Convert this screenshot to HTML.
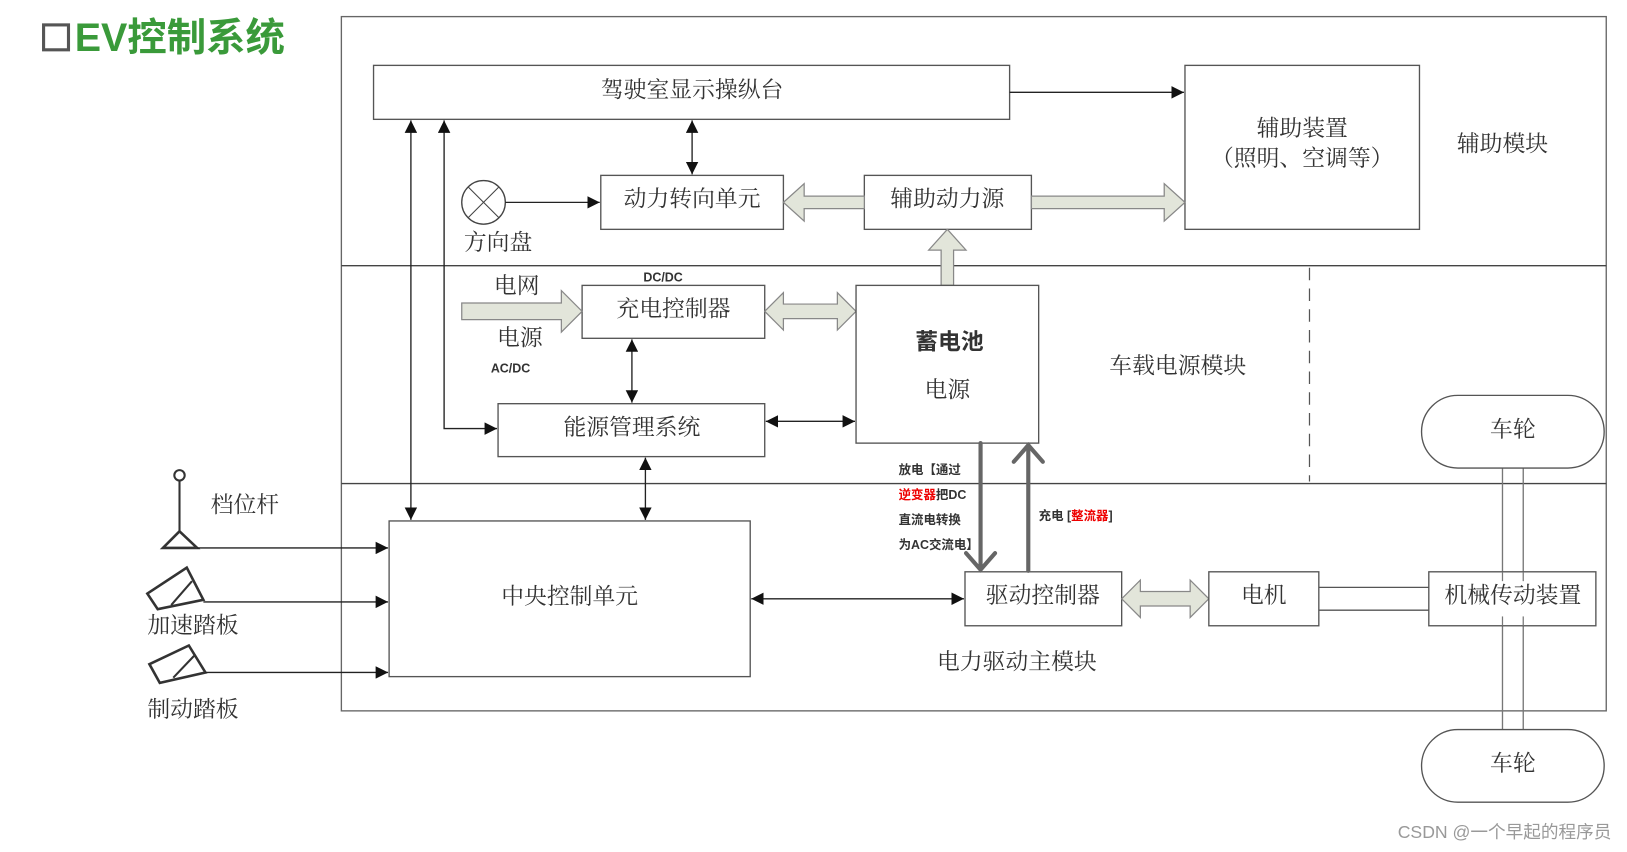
<!DOCTYPE html>
<html><head><meta charset="utf-8"><style>
html,body{margin:0;padding:0;background:#fff;width:1627px;height:852px;overflow:hidden}
svg{display:block}
.t{font-family:"Liberation Serif","Noto Serif CJK SC",serif;font-size:22px;fill:#333;text-anchor:middle;dominant-baseline:middle}
.s{font-family:"Liberation Sans","Noto Sans CJK SC",sans-serif;font-size:12px;font-weight:bold;fill:#333}
.b{fill:#fff;stroke:#555;stroke-width:1.3}
.l{stroke:#222;stroke-width:1.3;fill:none}
.f{fill:#e2e5da;stroke:#888;stroke-width:1.2}
</style></head><body>
<svg width="1627" height="852" viewBox="0 0 1568 821" preserveAspectRatio="none" xmlns="http://www.w3.org/2000/svg">
<defs>
<marker id="a" viewBox="0 0 10 10" refX="10" refY="5" markerWidth="12" markerHeight="12" markerUnits="userSpaceOnUse" orient="auto-start-reverse"><path d="M0,0 L10,5 L0,10 z" fill="#111"/></marker>
</defs>
<!-- title -->
<rect x="42" y="24" width="24" height="24" fill="#fff" stroke="#555" stroke-width="3"/>
<text x="72" y="39" style="font-family:'Liberation Sans','Noto Sans CJK SC',sans-serif;font-size:38px;font-weight:bold;fill:#3a9a3a;dominant-baseline:middle">EV控制系统</text>
<!-- modules -->
<rect x="329" y="16" width="1219" height="669" fill="none" stroke="#666" stroke-width="1.3"/>
<line x1="329" y1="256" x2="1548" y2="256" stroke="#444" stroke-width="1.3"/>
<line x1="329" y1="466" x2="1548" y2="466" stroke="#444" stroke-width="1.3"/>
<line x1="1262" y1="258" x2="1262" y2="464" stroke="#555" stroke-width="1.2" stroke-dasharray="12,8"/>
<!-- wheels shafts -->
<line x1="1448" y1="451" x2="1448" y2="703" stroke="#777" stroke-width="1.3"/>
<line x1="1468" y1="451" x2="1468" y2="703" stroke="#777" stroke-width="1.3"/>
<rect x="1370" y="381" width="176" height="70" rx="35" class="b"/>
<text x="1458" y="416" class="t">车轮</text>
<rect x="1370" y="703" width="176" height="70" rx="35" class="b"/>
<text x="1458" y="738" class="t">车轮</text>
<!-- top -->
<rect x="360" y="63" width="613" height="52" class="b"/>
<text x="667" y="89" class="t">驾驶室显示操纵台</text>
<rect x="1142" y="63" width="226" height="158" class="b"/>
<text x="1255" y="126" class="t">辅助装置</text>
<text x="1255" y="155" class="t">（照明、空调等）</text>
<text x="1448" y="141" class="t">辅助模块</text>
<rect x="579" y="169" width="176" height="52" class="b"/>
<text x="667" y="194" class="t">动力转向单元</text>
<rect x="833" y="169" width="161" height="52" class="b"/>
<text x="913" y="194" class="t">辅助动力源</text>
<circle cx="466" cy="195" r="21" fill="#fff" stroke="#444" stroke-width="1.3"/>
<line x1="451" y1="180" x2="481" y2="210" stroke="#444"/><line x1="481" y1="180" x2="451" y2="210" stroke="#444"/>
<text x="480" y="236" class="t">方向盘</text>
<line x1="487" y1="195" x2="578" y2="195" class="l" marker-end="url(#a)"/>
<line x1="973" y1="89" x2="1141" y2="89" class="l" marker-end="url(#a)"/>
<line x1="667" y1="116" x2="667" y2="168" class="l" marker-start="url(#a)" marker-end="url(#a)"/>
<polygon class="f" points="755,195 775,177 775,189 833,189 833,201 775,201 775,213"/>
<polygon class="f" points="994,189 1122,189 1122,177 1142,195 1122,213 1122,201 994,201"/>
<polygon class="f" points="907,275 907,241 895,241 913,221 931,241 919,241 919,275"/>
<!-- middle -->
<line x1="396" y1="116" x2="396" y2="501" class="l" marker-start="url(#a)" marker-end="url(#a)"/>
<polyline points="428,116 428,413 479,413" class="l" marker-start="url(#a)" marker-end="url(#a)"/>
<rect x="561" y="275" width="176" height="51" class="b"/>
<text x="649" y="300" class="t">充电控制器</text>
<text x="639" y="268" class="s" text-anchor="middle" dominant-baseline="middle">DC/DC</text>
<text x="498" y="278" class="t">电网</text>
<polygon class="f" points="445,292 541,292 541,280 561,300 541,320 541,308 445,308"/>
<text x="501" y="328" class="t">电源</text>
<text x="492" y="356" class="s" text-anchor="middle" dominant-baseline="middle">AC/DC</text>
<polygon class="f" points="737,300 755,282 755,293 807,293 807,282 825,300 807,318 807,307 755,307 755,318"/>
<rect x="825" y="275" width="176" height="152" class="b"/>
<text x="915" y="331" class="t" style="font-weight:bold;font-family:'Liberation Sans','Noto Sans CJK SC',sans-serif">蓄电池</text>
<text x="913" y="378" class="t">电源</text>
<text x="1135" y="355" class="t">车载电源模块</text>
<rect x="480" y="389" width="257" height="51" class="b"/>
<text x="609" y="414" class="t">能源管理系统</text>
<line x1="738" y1="406" x2="824" y2="406" class="l" marker-start="url(#a)" marker-end="url(#a)"/>
<line x1="609" y1="327" x2="609" y2="388" class="l" marker-start="url(#a)" marker-end="url(#a)"/>
<line x1="622" y1="441" x2="622" y2="501" class="l" marker-start="url(#a)" marker-end="url(#a)"/>
<!-- bottom -->
<rect x="375" y="502" width="348" height="150" class="b"/>
<text x="549" y="577" class="t">中央控制单元</text>
<line x1="173" y1="462" x2="173" y2="515" stroke="#333" stroke-width="2"/>
<circle cx="173" cy="458" r="5" fill="#fff" stroke="#333" stroke-width="2"/>
<polygon points="173,512 157,528 190,528" fill="#fff" stroke="#333" stroke-width="2.5"/>
<text x="236" y="489" class="t">档位杆</text>
<line x1="190" y1="528" x2="374" y2="528" class="l" marker-end="url(#a)"/>
<polygon points="142,572 180,547 196,578 152,587" fill="#fff" stroke="#333" stroke-width="2.5"/>
<line x1="165" y1="583" x2="185" y2="560" stroke="#333" stroke-width="2"/>
<line x1="196" y1="580" x2="374" y2="580" class="l" marker-end="url(#a)"/>
<text x="186" y="605" class="t">加速踏板</text>
<polygon points="144,640 182,622 198,648 154,658" fill="#fff" stroke="#333" stroke-width="2.5"/>
<line x1="167" y1="653" x2="187" y2="632" stroke="#333" stroke-width="2"/>
<line x1="198" y1="648" x2="374" y2="648" class="l" marker-end="url(#a)"/>
<text x="186" y="686" class="t">制动踏板</text>
<line x1="724" y1="577" x2="929" y2="577" class="l" marker-start="url(#a)" marker-end="url(#a)"/>
<rect x="930" y="551" width="151" height="52" class="b"/>
<text x="1005" y="576" class="t">驱动控制器</text>
<polygon class="f" points="1081,577 1099,559 1099,570 1147,570 1147,559 1165,577 1147,595 1147,584 1099,584 1099,595"/>
<rect x="1165" y="551" width="106" height="52" class="b"/>
<text x="1218" y="576" class="t">电机</text>
<line x1="1271" y1="566" x2="1377" y2="566" stroke="#555" stroke-width="1.3"/>
<line x1="1271" y1="588" x2="1377" y2="588" stroke="#555" stroke-width="1.3"/>
<rect x="1377" y="551" width="161" height="52" class="b"/>
<line x1="1448" y1="551" x2="1448" y2="603" stroke="#777" stroke-width="1.2"/>
<line x1="1468" y1="551" x2="1468" y2="603" stroke="#777" stroke-width="1.2"/>
<rect x="1380" y="560" width="155" height="34" fill="#fff"/>
<text x="1458" y="576" class="t">机械传动装置</text>
<text x="980" y="640" class="t">电力驱动主模块</text>
<!-- charge/discharge -->
<g stroke="#666" stroke-width="4" fill="none" stroke-linecap="round">
<line x1="945" y1="427" x2="945" y2="548"/><polyline points="931,533 945,549 959,533"/>
<line x1="991" y1="550" x2="991" y2="429"/><polyline points="977,445 991,429 1005,445"/>
</g>
<text x="866" y="457" class="s">放电【通过</text>
<text x="866" y="481" class="s"><tspan fill="#e00">逆变器</tspan>把DC</text>
<text x="866" y="505" class="s">直流电转换</text>
<text x="866" y="529" class="s">为AC交流电】</text>
<text x="1001" y="501" class="s">充电 [<tspan fill="#e00">整流器</tspan>]</text>
<text x="1553" y="803" text-anchor="end" dominant-baseline="middle" style="font-family:'Liberation Sans','Noto Sans CJK SC',sans-serif;font-size:17px;fill:#999">CSDN @一个早起的程序员</text>
</svg>
</body></html>
